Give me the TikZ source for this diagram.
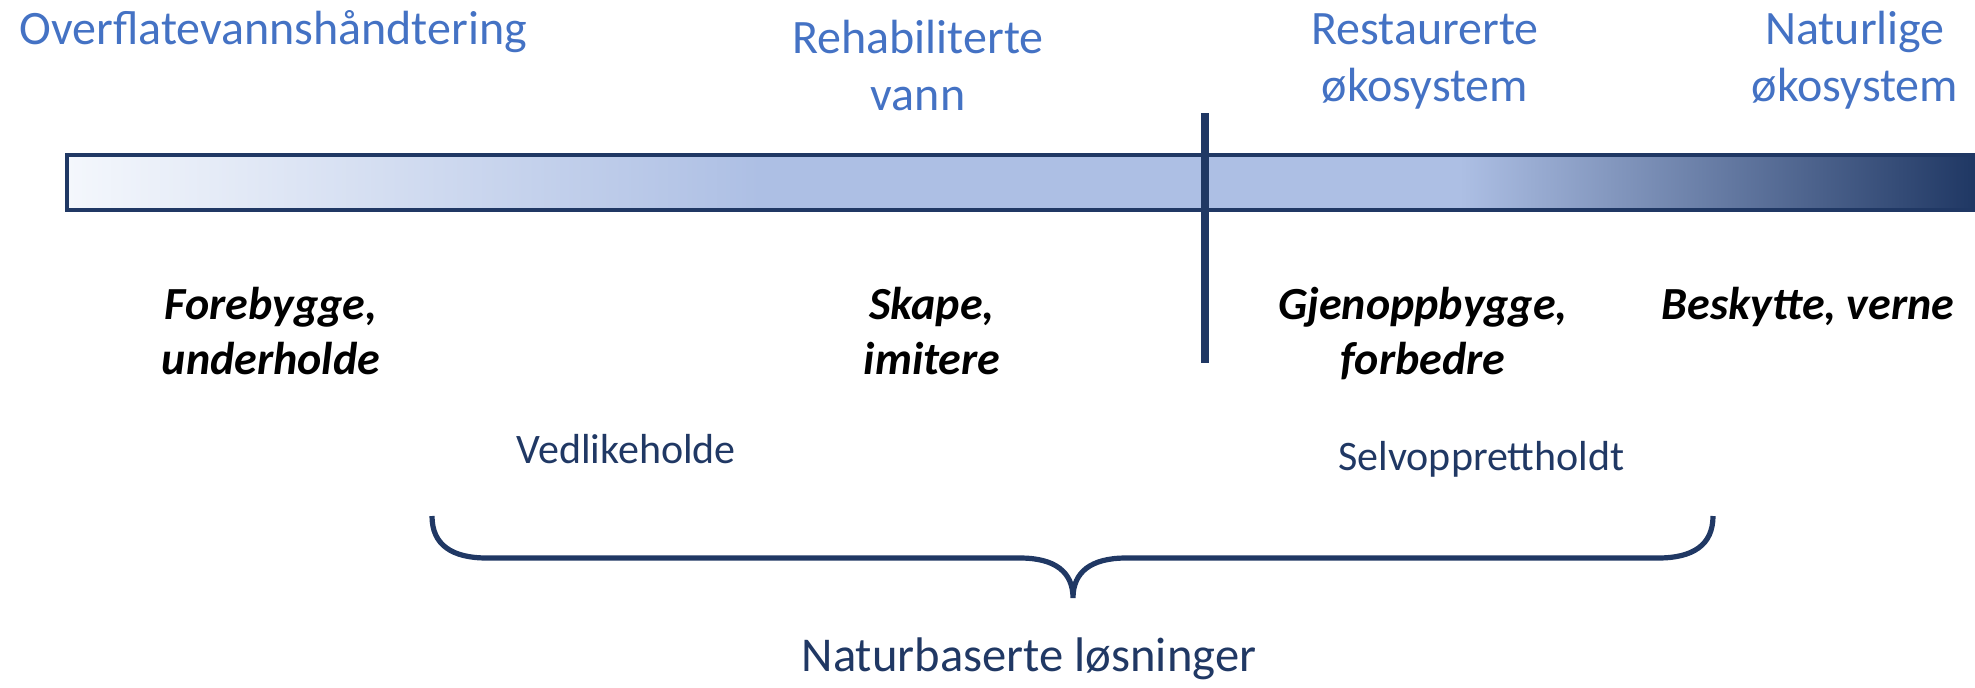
\documentclass[tikz,border=0pt]{standalone}
\usepackage{fontspec}
\setmainfont{Carlito}
\definecolor{hdrblue}{HTML}{4472C4}
\definecolor{navy}{HTML}{203864}
\definecolor{barlight}{HTML}{ADBFE4}
\definecolor{barwhite}{HTML}{F4F7FC}
\begin{document}
\begin{tikzpicture}[x=0.5pt,y=-0.5pt,
  hdr/.style={text=hdrblue,font=\fontsize{24}{28.5}\selectfont,align=center,anchor=base,inner sep=0pt},
  act/.style={text=black,font=\fontsize{23}{27.5}\selectfont\bfseries\itshape,align=center,anchor=base,inner sep=0pt},
  sub/.style={text=navy,font=\fontsize{21}{25}\selectfont,anchor=base west,inner sep=0pt},
  lbl/.style={text=navy,font=\fontsize{24.3}{28}\selectfont,anchor=base,inner sep=0pt}]
\useasboundingbox (0,0) rectangle (1975,687);
% bar
\shade[left color=barwhite,right color=barlight] (67,155) rectangle (760,210);
\fill[barlight] (759,155) rectangle (1461,210);
\shade[left color=barlight,right color=navy] (1460,155) rectangle (1973,210);
\draw[navy,line width=2pt] (67,155) rectangle (1973,210);
% divider
\coordinate (vtop) at (1205,113);
\coordinate (vbot) at (1205,363);
\draw[navy,line width=4pt] (vtop) -- (vbot);
% headers
\node[hdr,anchor=base west] (h1) at (19,44) {Overflatevannshåndtering};
\node[hdr] (h2) at (918,110) {Rehabiliterte\\vann};
\node[hdr] (h3) at (1425,101) {Restaurerte\\økosystem};
\node[hdr] (h4) at (1855,101) {Naturlige\\økosystem};
% actions
\node[act] (a1) at (271,374) {Forebygge,\\underholde};
\node[act] (a2) at (932,374) {Skape,\\imitere};
\node[act] (a3) at (1423,374) {Gjenoppbygge,\\forbedre};
\node[act] (a4) at (1808,319) {Beskytte, verne};
% sub labels
\node[sub] (s1) at (516,463) {Vedlikeholde};
\node[sub] (s2) at (1338,470) {Selvopprettholdt};
% brace
\coordinate (bl) at (432,516);
\coordinate (br) at (1713,516);
\coordinate (bt) at (1073,598);
\draw[navy,line width=2.6pt] (bl) .. controls (432,545) and (452,558) .. (487,558)
  -- (1020,558) .. controls (1055,558) and (1073,572) .. (bt)
  .. controls (1073,572) and (1091,558) .. (1126,558)
  -- (1658,558) .. controls (1693,558) and (1713,545) .. (br);
\node[lbl] (nbl) at (1029,671) {Naturbaserte løsninger};
\end{tikzpicture}
\end{document}
